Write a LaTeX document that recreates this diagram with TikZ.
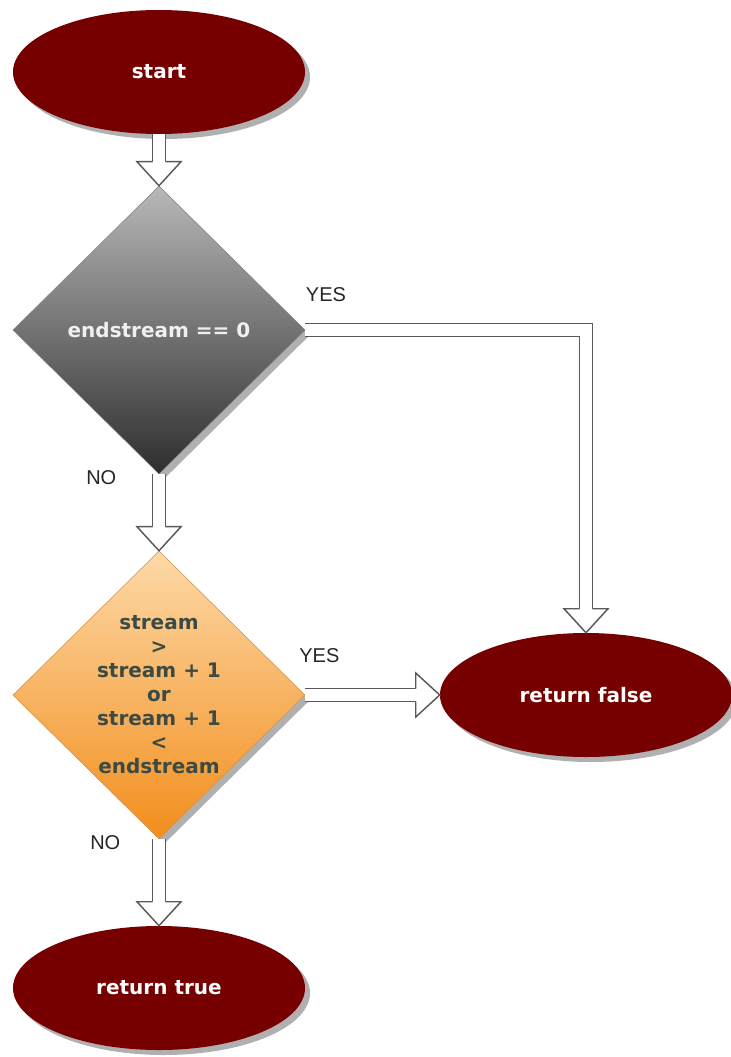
\documentclass[tikz,border=0pt]{standalone}
\usepackage{fontspec}
\setmainfont{DejaVu Sans}
\newfontfamily\answerfont{Liberation Sans}
\usetikzlibrary{positioning, calc}
\usetikzlibrary{shapes,arrows.meta,decorations.markings,shadows}
\definecolor{termred}{HTML}{760000}
\definecolor{shadowgray}{HTML}{B0B0B0}
\definecolor{arrowgray}{HTML}{5A5A5A}
\definecolor{condtop}{HTML}{B8B8B8}
\definecolor{condbot}{HTML}{2E2E2E}
\definecolor{rangetop}{HTML}{FDD9A8}
\definecolor{rangebot}{HTML}{F28E1C}
\definecolor{rangeedge}{HTML}{D9913C}
\definecolor{rangetext}{HTML}{3B4A43}
\tikzstyle{terminal} = [ellipse, fill=termred, text=white,
    minimum width=219pt, minimum height=93pt, font=\fontsize{15}{18}\selectfont\bfseries,
    drop shadow={shadow xshift=3.75pt, shadow yshift=-3.75pt, fill=shadowgray, opacity=1}]
\tikzstyle{decision} = [diamond, draw, minimum width=219pt, minimum height=216pt,
    inner sep=0pt, align=center, font=\fontsize{15}{18}\selectfont\bfseries,
    drop shadow={shadow xshift=3.75pt, shadow yshift=-3.75pt, fill=shadowgray, opacity=1}]
\tikzstyle{line} = [draw=arrowgray, line width=1.1pt, double=white, double distance=8.5pt,
    line join=miter, shorten >=17pt, postaction={decorate}]
\tikzstyle{answer} = [font=\answerfont\fontsize{15}{18}\selectfont, text=black!85, inner sep=0pt]

\begin{document}
\begin{tikzpicture}[auto, decoration={
      markings,
      mark=at position 1 with {\draw[arrowgray, line width=1.1pt, fill=white, shorten >=0pt,
        line join=miter] (-18pt,4.8pt) -- (-18pt,16.5pt) -- (0,0) -- (-18pt,-16.5pt) -- (-18pt,-4.8pt);}
    }
  ]
    \useasboundingbox (-119.25pt,54pt) rectangle (429pt,-738.75pt);
   % Place nodes
    \node [terminal] (start) {start};
    \node [decision, below of=start, node distance=193.5pt, draw=gray,
      top color=condtop, bottom color=condbot, text=white!94!black] (endzero) {endstream == 0};
    \node [decision, below of=endzero, node distance=273.75pt, draw=rangeedge,
      top color=rangetop, bottom color=rangebot, text=rangetext] (range)
      {stream\\ >\\ stream + 1\\ or\\ stream + 1\\ <\\ endstream};
    \node [terminal, below of=range, node distance=219.75pt] (rettrue) {return true};
    \node [terminal, right of=range, node distance=320.25pt] (retfalse) {return false};
   % Draw edges
    \path [line] (start) -- (endzero);
    \path [line] (endzero) -| (retfalse)
    node [answer, pos=0, anchor=south west, yshift=21pt] {YES};
    \path [line] (endzero) -- (range)
    node [answer, pos=0, anchor=base east, xshift=-31.5pt, yshift=-8pt] {NO};
    \path [line] (range) -- (retfalse)
    node [answer, pos=0, anchor=south west, xshift=-5pt, yshift=24pt] {YES};
    \path [line] (range) -- (rettrue)
    node [answer, pos=0, anchor=base east, xshift=-28.5pt, yshift=-7.5pt] {NO};
  \end{tikzpicture}
\end{document}
